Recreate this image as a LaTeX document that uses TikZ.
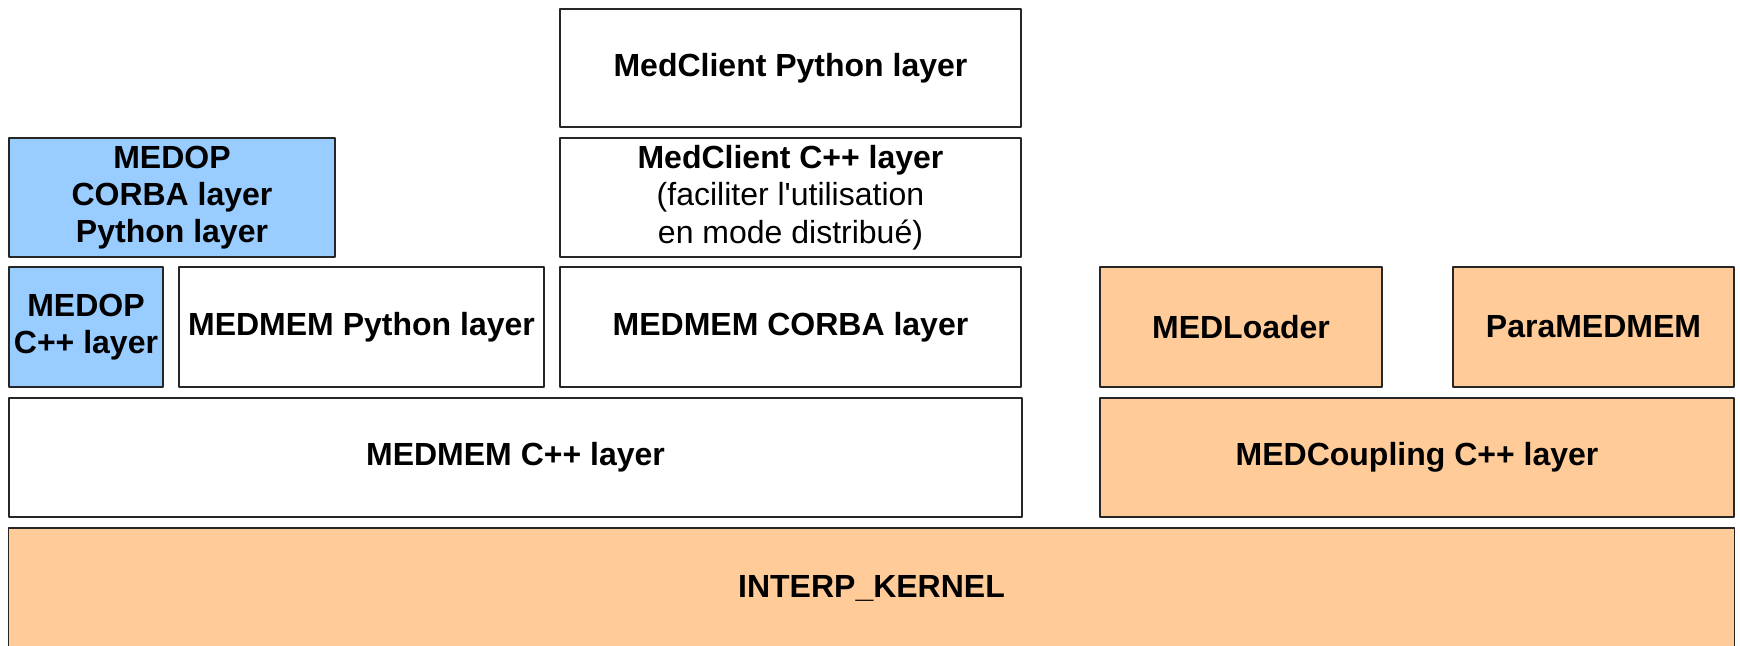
\documentclass[tikz,border=0pt]{standalone}
\usepackage{fontspec}
\setmainfont{Liberation Sans}
\definecolor{opblue}{HTML}{99CCFF}
\definecolor{kernorange}{HTML}{FFCC99}
\begin{document}
\begin{tikzpicture}[x=0.01cm, y=0.01cm, line join=round,
	layer/.style={draw=black!85, line width=0.5pt, inner sep=0pt, align=center,
		font=\fontsize{9.1}{10.6}\selectfont\bfseries},
	dims/.style 2 args={minimum width=#1cm, minimum height=#2cm},
	medop/.style={layer, fill=opblue},
	kern/.style={layer, fill=kernorange}]
	\def\W{1740} \def\H{645} % page in px
	\useasboundingbox (0,0) rectangle (\W,\H);
	\clip (0,0) rectangle (\W,\H);
	% MedClient
	\node[layer, dims={4.61}{1.18}] (clientpy) at (790.5,577) {MedClient Python layer};
	\node[layer, dims={4.61}{1.19}] (clientcpp) at (790.5,447.5) {MedClient C++ layer\\{\mdseries (faciliter l\textquotesingle utilisation}\\{\mdseries en mode distribué)}};
	% MEDOP
	\node[medop, dims={3.26}{1.19}] (opcorba) at (172,447.5) {MEDOP\\CORBA layer\\Python layer};
	\node[medop, dims={1.54}{1.2}] (opcpp) at (86,318) {MEDOP\\C++ layer};
	% MEDMEM
	\node[layer, dims={3.65}{1.2}] (mempy) at (361.5,318) {MEDMEM Python layer};
	\node[layer, dims={4.61}{1.2}] (memcorba) at (790.5,318) {MEDMEM CORBA layer};
	\node[layer, dims={10.13}{1.19}] (memcpp) at (515.5,187.5) {MEDMEM C++ layer};
	% MEDCoupling
	\node[kern, dims={2.82}{1.2}] (loader) at (1241,318) {MEDLoader};
	\node[kern, dims={2.81}{1.2}] (para) at (1593.5,318) {ParaMEDMEM};
	\node[kern, dims={6.34}{1.19}] (coupling) at (1417,187.5) {MEDCoupling C++ layer};
	\node[kern, dims={17.25}{1.2}] (kernel) at (871.5,57) {INTERP\_KERNEL};
\end{tikzpicture}
\end{document}
